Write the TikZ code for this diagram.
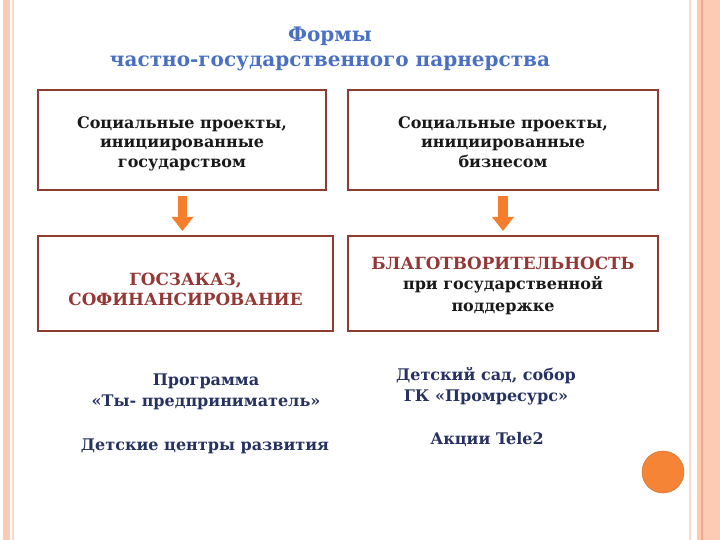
\documentclass[tikz,border=0pt]{standalone}
\usepackage{fontspec}
\setmainfont{DejaVu Serif}
\usetikzlibrary{arrows.meta,calc}
\definecolor{salmon}{HTML}{FDCAB4}
\definecolor{salmonD}{HTML}{F6A98A}
\definecolor{salmonL}{HTML}{FADBCB}
\definecolor{boxline}{HTML}{8E3B30}
\definecolor{redtxt}{HTML}{953735}
\definecolor{navy}{HTML}{263262}
\definecolor{titleblue}{HTML}{4A70C4}
\definecolor{arroworange}{HTML}{F47E2C}
\newcommand{\capsfont}{\fontsize{16.8}{18}\selectfont}
\newcommand{\boxtext}[2]{\raisebox{#1}[0pt][0pt]{\begin{tabular}{@{}c@{}}#2\end{tabular}}}
\tikzset{
  box/.style={draw=boxline, line width=2pt, inner sep=0pt, align=center, font=\bfseries\fontsize{16}{20.5}\selectfont, text=black!90},
  blockarrow/.style={line width=9.5pt, arroworange, -{Triangle[width=21pt,length=14pt]}},
  note/.style={align=center, text=navy, font=\bfseries\fontsize{16}{21}\selectfont}
}
\begin{document}
\begin{tikzpicture}[x=1pt,y=-1pt]
\useasboundingbox (0,0) rectangle (720,540);
% borders
\fill[salmon] (3,0) rectangle (10,540);
\draw[salmonL, line width=1.5pt] (13,0) -- (13,540);
\draw[salmonL, line width=2pt] (690,0) -- (690,540);
\fill[salmon] (697,0) rectangle (720,540);
\draw[salmonD, line width=2pt] (702,0) -- (702,540);
% title
\node[text=titleblue, font=\bfseries\fontsize{20}{25}\selectfont, align=center] (title) at (330,49) {Формы\\частно-государственного парнерства};
% boxes
\node[box, minimum width=288pt, minimum height=100pt] (b1) at (182,140) {\boxtext{-8pt}{Социальные проекты,\\[-1pt]инициированные\\[-1pt]государством}};
\node[box, minimum width=310pt, minimum height=100pt] (b2) at (503,140) {\boxtext{-8pt}{Социальные проекты,\\[-1pt]инициированные\\[-1pt]бизнесом}};
\node[box, minimum width=295pt, minimum height=95pt, text=redtxt] (b3) at (185.5,283.5) {\boxtext{-12pt}{\capsfont ГОСЗАКАЗ,\\[-1pt]\capsfont СОФИНАНСИРОВАНИЕ}};
\node[box, minimum width=310pt, minimum height=95pt] (b4) at (503,283.5) {\boxtext{-7pt}{{\capsfont\textcolor{redtxt}{БЛАГОТВОРИТЕЛЬНОСТЬ}}\\при государственной\\[1pt]поддержке}};
% arrows
\draw[blockarrow] ($(b1.south)+(0.5,5)$) -- ($(b1.south |- b3.north)+(0.5,-4)$);
\draw[blockarrow] ($(b2.south)+(0,5)$) -- ($(b4.north)+(0,-4)$);
% notes
\node[note] (n1) at (206,392) {Программа\\«Ты- предприниматель»};
\node[note] (n2) at (205,446) {Детские центры развития};
\node[note] (n3) at (486,386) {Детский сад, собор\\ГК «Промресурс»};
\node[note] (n4) at (487,440) {Акции Tele2};
% orange dot
\fill[arroworange!95!white, draw=arroworange!85!black!90, line width=0.6pt] (663,472) circle (21);
\end{tikzpicture}
\end{document}
